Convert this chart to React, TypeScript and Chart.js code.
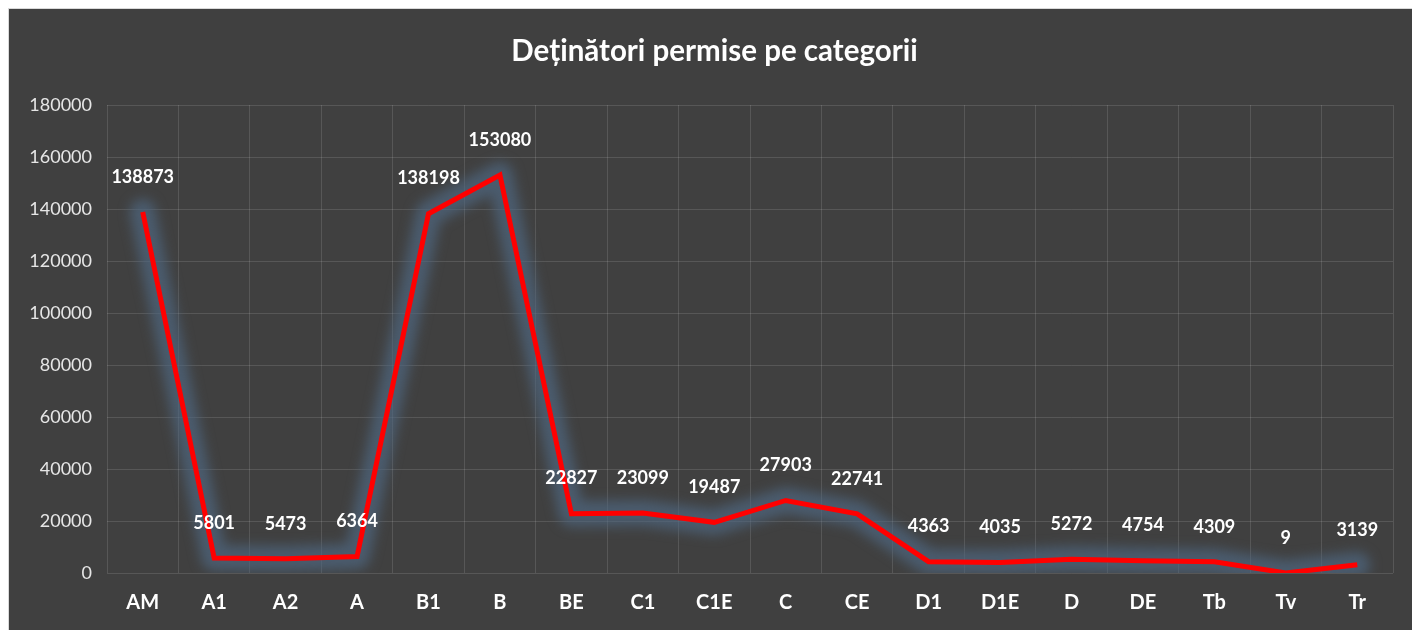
import React, { useEffect, useRef } from "react";
import { Chart, registerables } from "chart.js";

Chart.register(...registerables);

const categories = ["AM", "A1", "A2", "A", "B1", "B", "BE", "C1", "C1E", "C", "CE", "D1", "D1E", "D", "DE", "Tb", "Tv", "Tr"];
const holders = [138873, 5801, 5473, 6364, 138198, 153080, 22827, 23099, 19487, 27903, 22741, 4363, 4035, 5272, 4754, 4309, 9, 3139];
const yTicksMax = 180000;
const yTicksStep = 20000;
const chartTitle = "Deținători permise pe categorii";

const FONT = "Lato, 'Open Sans', sans-serif";

export default function App() {
  const ref = useRef<HTMLCanvasElement | null>(null);

  useEffect(() => {
    if (!ref.current) return;

    const titlePlugin = {
      id: "customTitle",
      afterDraw(chart: any) {
        const ctx = chart.ctx;
        ctx.save();
        ctx.fillStyle = "#ffffff";
        ctx.font = `bold 29.5px ${FONT}`;
        ctx.textAlign = "center";
        ctx.textBaseline = "middle";
        ctx.fillText(chartTitle, chart.width / 2 + 4, 42);
        ctx.restore();
      },
    };

    const glowPlugin = {
      id: "glow",
      beforeDatasetDraw(chart: any, args: any) {
        if (args.index === 1) {
          chart.ctx.save();
          chart.ctx.filter = "blur(6px)";
        }
      },
      afterDatasetDraw(chart: any, args: any) {
        if (args.index === 1) {
          chart.ctx.restore();
        }
      },
    };

    const labelPlugin = {
      id: "valueLabels",
      afterDatasetsDraw(chart: any) {
        const ctx = chart.ctx;
        const meta = chart.getDatasetMeta(0);
        ctx.save();
        ctx.fillStyle = "#ffffff";
        ctx.font = `bold 18px ${FONT}`;
        ctx.textAlign = "center";
        ctx.textBaseline = "middle";
        meta.data.forEach((pt: any, i: number) => {
          ctx.fillText(String(holders[i]), pt.x, pt.y - 35);
        });
        ctx.restore();
      },
    };

    const chart = new Chart(ref.current, {
      type: "line",
      data: {
        labels: categories,
        datasets: [
          {
            data: holders,
            borderColor: "#ff0000",
            borderWidth: 5,
            pointRadius: 0,
            borderJoinStyle: "miter",
            tension: 0,
          },
          {
            data: holders,
            borderColor: "rgba(78,102,128,0.7)",
            borderWidth: 26,
            pointRadius: 0,
            borderJoinStyle: "round",
            borderCapStyle: "round",
            tension: 0,
          },
        ],
      },
      options: {
        animation: false,
        responsive: false,
        maintainAspectRatio: false,
        layout: { padding: { top: 96, right: 19, left: 0, bottom: 0 } },
        plugins: {
          legend: { display: false },
          title: { display: false },
          tooltip: { enabled: false },
        },
        scales: {
          x: {
            offset: true,
            grid: {
              offset: true,
              color: "rgba(255,255,255,0.12)",
              lineWidth: 1,
              drawTicks: false,
            },
            border: { display: false },
            ticks: {
              color: "#ffffff",
              font: { family: FONT, size: 20, weight: "bold" },
              padding: 18,
              maxRotation: 0,
              autoSkip: false,
            },
            afterFit(scale: any) {
              scale.height = 57;
            },
          },
          y: {
            min: 0,
            max: yTicksMax,
            grid: {
              color: "rgba(255,255,255,0.12)",
              lineWidth: 1,
              drawTicks: false,
            },
            border: { display: false },
            ticks: {
              stepSize: yTicksStep,
              color: "#e6e6e6",
              font: { family: FONT, size: 18 },
              padding: 15,
              callback: (v: any) => String(v),
            },
            afterFit(scale: any) {
              scale.width = 98;
            },
          },
        },
      },
      plugins: [glowPlugin, labelPlugin, titlePlugin],
    } as any);

    return () => chart.destroy();
  }, []);

  return (
    <div
      style={{
        position: "fixed",
        left: 8,
        top: 8,
        width: 1404,
        height: 622,
        background: "#404040",
        borderTop: "1px solid #d9d9d9",
        borderLeft: "1px solid #d9d9d9",
        boxSizing: "border-box",
      }}
    >
      <canvas ref={ref} width={1403} height={621} style={{ display: "block" }} />
    </div>
  );
}
